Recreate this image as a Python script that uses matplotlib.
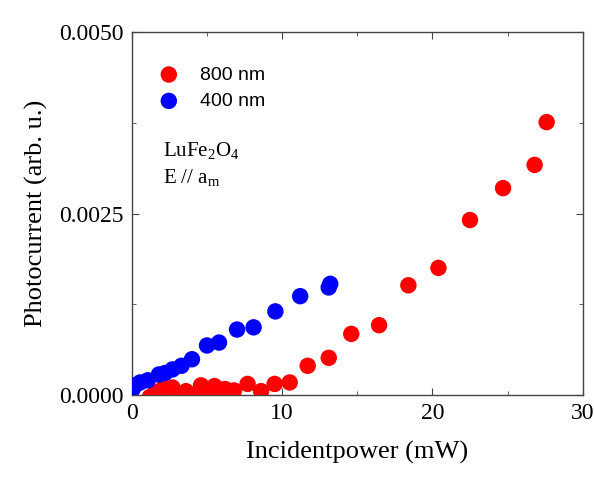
import numpy as np
import matplotlib
matplotlib.use("Agg")
import matplotlib.pyplot as plt
from matplotlib.ticker import MultipleLocator

plt.rcParams['mathtext.fontset'] = 'custom'
plt.rcParams['mathtext.rm'] = 'Liberation Serif'
plt.rcParams['mathtext.it'] = 'Liberation Serif:italic'

# 800 nm excitation
x_red = [1.2, 1.6, 2.1, 2.7, 3.1, 3.6, 4.1, 4.6, 5.0, 5.5, 5.9, 6.2, 6.8, 7.7, 8.6, 9.5, 10.5,
         11.7, 13.1, 14.6, 16.45, 18.4, 20.4, 22.5, 24.7, 26.8, 27.6]
y_red = [-0.00003, 0.00004, 0.00009, 0.0001, -0.00002, 0.00005, 0.0, 0.00013, 0.00002, 0.00012,
         0.00003, 0.00008, 0.00006, 0.00015, 0.00005, 0.00015, 0.00017,
         0.0004, 0.00051, 0.00084, 0.00096, 0.00151, 0.00175, 0.00241, 0.00285, 0.00317, 0.00376]

# 400 nm excitation
x_blue = [0.05, 0.2, 0.55, 1.06, 1.8, 2.2, 2.7, 3.3, 4.0, 5.0, 5.8, 7.0, 8.1, 9.55, 11.2, 13.1, 13.2]
y_blue = [0.00008, 0.00013, 0.00017, 0.0002, 0.00028, 0.0003, 0.00035, 0.0004, 0.00049,
          0.00068, 0.00072, 0.0009, 0.00093, 0.00115, 0.00136, 0.00148, 0.00153]

fig = plt.figure(figsize=(5.94, 4.88), dpi=100)
ax = fig.add_axes([0.222, 0.191, 0.759, 0.743])

ax.scatter(x_red, y_red, s=140, color='#ff0000', edgecolors='none', label='800 nm', zorder=3)
ax.scatter(x_blue, y_blue, s=140, color='#0000ff', edgecolors='none', label='400 nm', zorder=3)

ax.set_xlim(0, 30)
ax.set_ylim(0, 0.005)
ax.xaxis.set_major_locator(MultipleLocator(10))
ax.xaxis.set_minor_locator(MultipleLocator(5))
ax.yaxis.set_major_locator(MultipleLocator(0.0025))
ax.yaxis.set_minor_locator(MultipleLocator(0.00125))
ax.yaxis.set_major_formatter(matplotlib.ticker.FormatStrFormatter('%.4f'))

serif = 'Liberation Serif'
ax.tick_params(which='both', direction='in', top=True, right=True, color='#444444')
ax.tick_params(which='major', length=5, pad=6)
ax.tick_params(which='minor', length=3)
for lab in ax.get_xticklabels() + ax.get_yticklabels():
    lab.set_fontfamily(serif)
    lab.set_fontsize(17)
for sp in ax.spines.values():
    sp.set_color('#444444')
    sp.set_linewidth(1.0)

ax.set_xlabel('Incidentpower (mW)', fontfamily=serif, fontsize=19, labelpad=12)
ax.set_ylabel('Photocurrent (arb. u.)', fontfamily=serif, fontsize=19, labelpad=8)

leg = ax.legend(loc='upper left', bbox_to_anchor=(0.0, 0.955), frameon=False,
                prop={'family': 'Liberation Sans', 'size': 14}, handletextpad=0.6,
                labelspacing=0.45, markerscale=1.0)

ax.text(0.068, 0.675, r'LuFe$_2$O$_4$', transform=ax.transAxes, fontfamily=serif, fontsize=15,
        va='center')
ax.text(0.068, 0.598, r'E // a$_\mathrm{m}$', transform=ax.transAxes, fontfamily=serif, fontsize=15,
        va='center')

fig.savefig('out.png', dpi=100)
